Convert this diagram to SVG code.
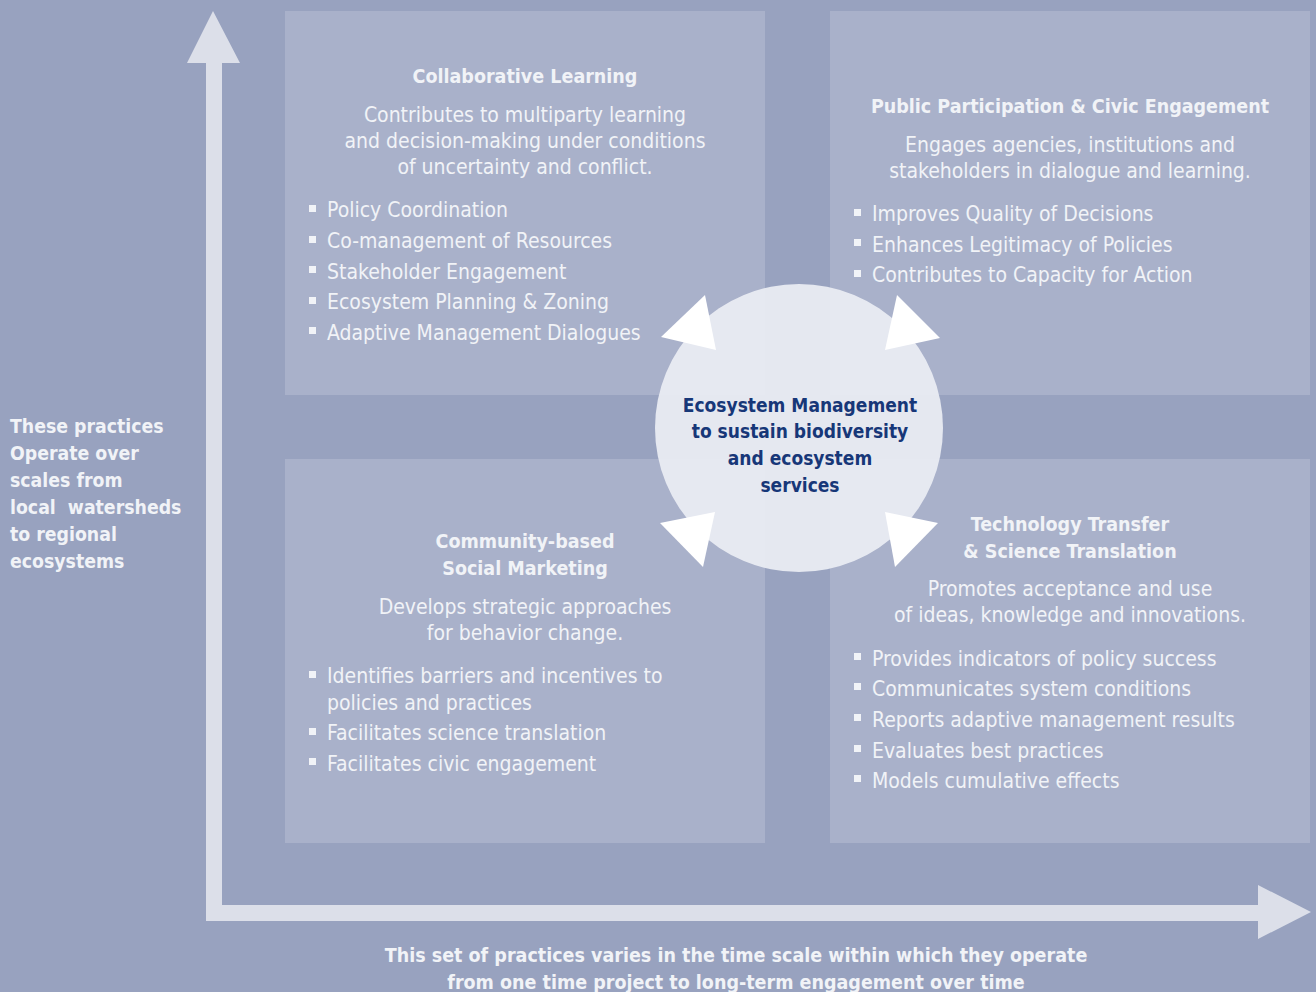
<svg xmlns="http://www.w3.org/2000/svg" width="1316" height="992" viewBox="0 0 1316 992">
<style>
.panel{fill:#a9b1ca}
text{font-family:"DejaVu Sans Condensed","DejaVu Sans",sans-serif;fill:#f1f3f7}
.t{font-weight:bold;font-size:19.5px;text-anchor:middle}
.d{font-size:21px;text-anchor:middle}
.b{font-size:21px}
.c{font-weight:bold;font-size:19px;text-anchor:middle;fill:#173778}
.l{font-weight:bold;font-size:19.3px}
.bul{fill:#f1f3f7}
.ar{fill:#dcdfe9}
.tri{fill:#ffffff}
</style>
<defs>
<rect id="sq" width="7" height="7"/>
</defs>
<rect width="1316" height="992" fill="#98a2bf"/>

<g id="collaborative-learning">
<rect class="panel" x="285" y="11" width="480" height="384"/>
<text class="t" x="525" y="83">Collaborative Learning</text>
<text class="d" x="525" y="122">Contributes to multiparty learning</text>
<text class="d" x="525" y="148">and decision-making under conditions</text>
<text class="d" x="525" y="174">of uncertainty and conflict.</text>
<g class="bul"><use href="#sq" x="309" y="205"/><use href="#sq" x="309" y="236"/><use href="#sq" x="309" y="266"/><use href="#sq" x="309" y="297"/><use href="#sq" x="309" y="327"/></g>
<text class="b" x="327" y="217">Policy Coordination</text>
<text class="b" x="327" y="248">Co-management of Resources</text>
<text class="b" x="327" y="279">Stakeholder Engagement</text>
<text class="b" x="327" y="309">Ecosystem Planning &amp; Zoning</text>
<text class="b" x="327" y="340">Adaptive Management Dialogues</text>
</g>

<g id="public-participation">
<rect class="panel" x="830" y="11" width="480" height="384"/>
<text class="t" x="1070" y="113">Public Participation &amp; Civic Engagement</text>
<text class="d" x="1070" y="152">Engages agencies, institutions and</text>
<text class="d" x="1070" y="178">stakeholders in dialogue and learning.</text>
<g class="bul"><use href="#sq" x="854" y="209"/><use href="#sq" x="854" y="239"/><use href="#sq" x="854" y="270"/></g>
<text class="b" x="872" y="221">Improves Quality of Decisions</text>
<text class="b" x="872" y="252">Enhances Legitimacy of Policies</text>
<text class="b" x="872" y="282">Contributes to Capacity for Action</text>
</g>

<g id="social-marketing">
<rect class="panel" x="285" y="459" width="480" height="384"/>
<text class="t" x="525" y="548">Community-based</text>
<text class="t" x="525" y="575">Social Marketing</text>
<text class="d" x="525" y="614">Develops strategic approaches</text>
<text class="d" x="525" y="640">for behavior change.</text>
<g class="bul"><use href="#sq" x="309" y="671"/><use href="#sq" x="309" y="728"/><use href="#sq" x="309" y="758"/></g>
<text class="b" x="327" y="683">Identifies barriers and incentives to</text>
<text class="b" x="327" y="710">policies and practices</text>
<text class="b" x="327" y="740">Facilitates science translation</text>
<text class="b" x="327" y="771">Facilitates civic engagement</text>
</g>

<g id="technology-transfer">
<rect class="panel" x="830" y="459" width="480" height="384"/>
<text class="t" x="1070" y="531">Technology Transfer</text>
<text class="t" x="1070" y="558">&amp; Science Translation</text>
<text class="d" x="1070" y="596">Promotes acceptance and use</text>
<text class="d" x="1070" y="622">of ideas, knowledge and innovations.</text>
<g class="bul"><use href="#sq" x="854" y="653"/><use href="#sq" x="854" y="683"/><use href="#sq" x="854" y="714"/><use href="#sq" x="854" y="745"/><use href="#sq" x="854" y="775"/></g>
<text class="b" x="872" y="666">Provides indicators of policy success</text>
<text class="b" x="872" y="696">Communicates system conditions</text>
<text class="b" x="872" y="727">Reports adaptive management results</text>
<text class="b" x="872" y="758">Evaluates best practices</text>
<text class="b" x="872" y="788">Models cumulative effects</text>
</g>

<g id="ecosystem-management">
<circle cx="799" cy="428" r="144" fill="#eceef4" fill-opacity="0.92"/>
<text class="c" x="800" y="412">Ecosystem Management</text>
<text class="c" x="800" y="438">to sustain biodiversity</text>
<text class="c" x="800" y="465">and ecosystem</text>
<text class="c" x="800" y="492">services</text>
</g>

<g id="connectors">
<polygon class="ar" points="206,921 206,63 187,63 213,11 240,63 222,63 222,905 1258,905 1258,885 1311,912 1258,939 1258,921"/>
<polygon class="tri" points="705,295 661,337 716,350"/>
<polygon class="tri" points="897,295 940,338 885,350"/>
<polygon class="tri" points="660,523 715,512 703,567"/>
<polygon class="tri" points="885,512 938,523 895,567"/>
</g>

<g id="vertical-label">
<text class="l" x="10" y="433">These practices</text>
<text class="l" x="10" y="460">Operate over</text>
<text class="l" x="10" y="487">scales from</text>
<text class="l" x="10" y="514" xml:space="preserve">local  watersheds</text>
<text class="l" x="10" y="541">to regional</text>
<text class="l" x="10" y="568">ecosystems</text>
</g>

<g id="horizontal-label">
<text class="t" x="736" y="962">This set of practices varies in the time scale within which they operate</text>
<text class="t" x="736" y="989">from one time project to long-term engagement over time</text>
</g>
</svg>
